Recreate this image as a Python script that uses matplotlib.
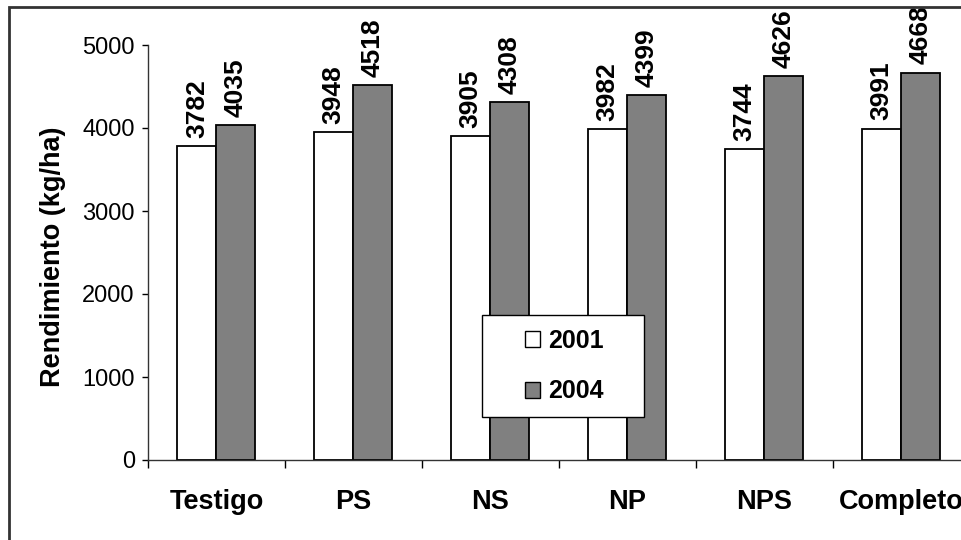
import matplotlib
matplotlib.use("Agg")
import matplotlib.pyplot as plt
from matplotlib.patches import Patch, Rectangle
import numpy as np

categories = ["Testigo", "PS", "NS", "NP", "NPS", "Completo"]
series_names = ["2001", "2004"]
values_2001 = [3782, 3948, 3905, 3982, 3744, 3991]
values_2004 = [4035, 4518, 4308, 4399, 4626, 4668]
yticks = [0, 1000, 2000, 3000, 4000, 5000]
ylabel = "Rendimiento (kg/ha)"

plt.rcParams['font.family'] = ['Liberation Sans', 'DejaVu Sans']

W, H = 962, 540
fig = plt.figure(figsize=(W / 100, H / 100), dpi=100)
fig.patch.set_facecolor("white")

# outer frame (only left and top visible in the crop)
fig.patches.append(Rectangle((8.5 / W, -0.1), 1.2, 1 - 7 / H + 0.1,
                             transform=fig.transFigure, fill=False,
                             edgecolor="#333333", linewidth=2.0))

ax = fig.add_axes([148 / W, (H - 460) / H, 821.4 / W, 415 / H])
x = np.arange(len(categories))
w = 0.285
c1, c2 = "white", "#808080"
b1 = ax.bar(x - w / 2, values_2001, w, color=c1, edgecolor="black", linewidth=1.3, zorder=2)
b2 = ax.bar(x + w / 2, values_2004, w, color=c2, edgecolor="black", linewidth=1.3, zorder=2)

for bars, vals in ((b1, values_2001), (b2, values_2004)):
    for rect, v in zip(bars, vals):
        ax.annotate(str(v), (rect.get_x() + rect.get_width() / 2, v),
                    xytext=(0, 6), textcoords="offset points",
                    rotation=90, ha="center", va="bottom",
                    fontsize=19, fontweight="bold", color="black")

ax.set_xlim(-0.5, len(categories) - 0.5)
ax.set_ylim(0, 5000)
ax.set_yticks(yticks)
ax.set_yticklabels([str(t) for t in yticks], fontsize=17)
ax.tick_params(axis="y", direction="out", length=4.5, width=1, pad=5, colors="black")

ax.set_xticks(np.arange(len(categories) + 1) - 0.5)
ax.set_xticklabels([])
ax.tick_params(axis="x", which="major", direction="out", length=6, width=1)
ax.set_xticks(x, minor=True)
ax.set_xticklabels(categories, minor=True, fontsize=19.5, fontweight="bold")
ax.tick_params(axis="x", which="minor", length=0, pad=21)

for s in ("top", "right"):
    ax.spines[s].set_visible(False)
for s in ("left", "bottom"):
    ax.spines[s].set_color("#333333")
    ax.spines[s].set_linewidth(1.0)
ax.patch.set_alpha(0)

fig.text(53 / W, 1 - 257 / H, ylabel, rotation=90, ha="center", va="center",
         fontsize=19.5, fontweight="bold")

# legend box
lx0, ly0, lx1, ly1 = 482, 315, 644, 417
fig.patches.append(Rectangle((lx0 / W, 1 - ly1 / H), (lx1 - lx0) / W, (ly1 - ly0) / H,
                             transform=fig.transFigure, facecolor="white",
                             edgecolor="black", linewidth=1.0, zorder=5))
handles = [Patch(facecolor=c1, edgecolor="black", linewidth=1.0),
           Patch(facecolor=c2, edgecolor="black", linewidth=1.0)]
leg = fig.legend(handles, series_names, loc="center",
                 bbox_to_anchor=((lx0 + lx1 + 3) / 2 / W, 1 - (ly0 + ly1) / 2 / H),
                 frameon=False, prop={"size": 18, "weight": "bold"},
                 handlelength=0.6, handleheight=0.6, handletextpad=0.35,
                 labelspacing=1.07, borderpad=0)
leg.set_zorder(6)

fig.savefig("out.png", dpi=100)
